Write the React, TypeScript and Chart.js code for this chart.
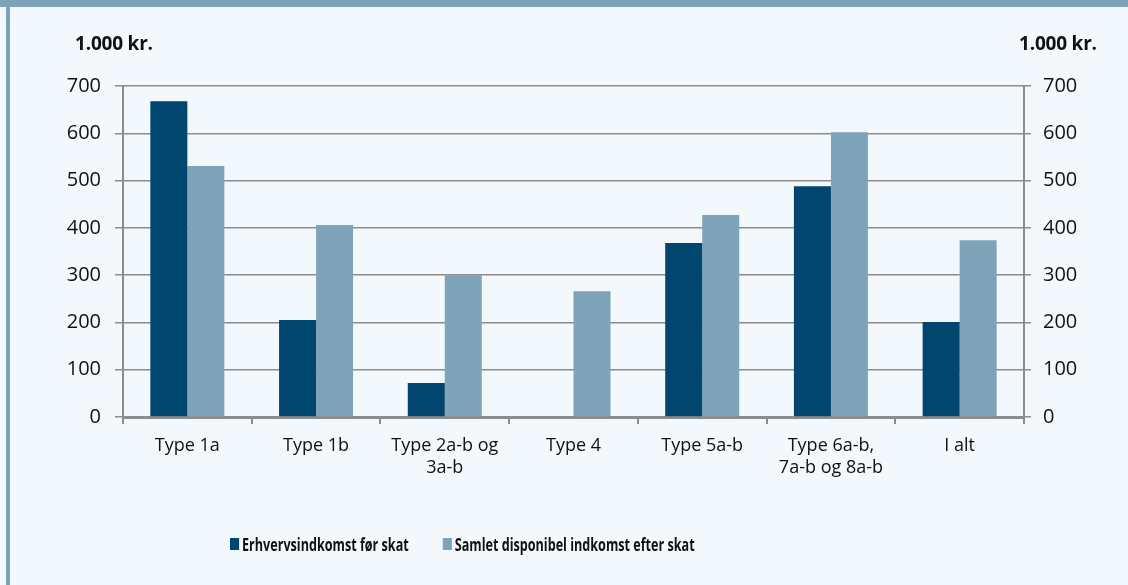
import React, { useEffect, useRef } from "react";
import { Chart, registerables } from "chart.js";

Chart.register(...registerables);

const categories: (string | string[])[] = [
  "Type 1a",
  "Type 1b",
  ["Type 2a-b og", "3a-b"],
  "Type 4",
  "Type 5a-b",
  ["Type 6a-b,", "7a-b og 8a-b"],
  "I alt",
];
const seriesNames = ["Erhvervsindkomst før skat", "Samlet disponibel indkomst efter skat"];
const erhvervsindkomst = [668, 205, 72, 0, 368, 488, 201];
const disponibel = [531, 406, 300, 266, 427, 602, 374];
const seriesColors = ["#00466e", "#7fa3b8"];
const unitLabel = "1.000 kr.";
const yMin = 0;
const yMax = 700;
const yStep = 100;

const FONT = "'Open Sans', 'Noto Sans', sans-serif";
const GRID = "#8c8c8c";
const LEG_SCALE = 0.7;

export default function App() {
  const ref = useRef<HTMLCanvasElement | null>(null);

  useEffect(() => {
    if (!ref.current) return;
    const chart = new Chart(ref.current, {
      type: "bar",
      data: {
        labels: categories,
        datasets: [
          { label: seriesNames[0], data: erhvervsindkomst, backgroundColor: seriesColors[0], yAxisID: "y" },
          { label: seriesNames[1], data: disponibel, backgroundColor: seriesColors[1], yAxisID: "y" },
        ],
      },
      options: {
        animation: false,
        responsive: false,
        maintainAspectRatio: false,
        layout: { padding: { top: 79, left: 0, right: 0, bottom: 68 } },
        datasets: { bar: { categoryPercentage: 0.575, barPercentage: 1 } },
        plugins: { legend: { display: false }, tooltip: { enabled: false }, title: { display: false } },
        scales: {
          x: {
            grid: { display: true, drawOnChartArea: false, offset: true, color: GRID, lineWidth: 2, tickLength: 7 },
            border: { display: true, color: GRID, width: 3 },
            ticks: { color: "#111", font: { family: FONT, size: 18, lineHeight: 1.22 }, padding: 11, maxRotation: 0, autoSkip: false },
            afterFit: (s: any) => { s.height = 100; },
          },
          y: {
            position: "left",
            min: yMin,
            max: yMax,
            grid: { color: GRID, lineWidth: 1.5, tickLength: 8, drawOnChartArea: true },
            border: { display: true, color: GRID, width: 2 },
            ticks: { stepSize: yStep, color: "#111", font: { family: FONT, size: 20 }, padding: 14 },
            afterFit: (s: any) => { s.width = 113; },
          },
          y2: {
            position: "right",
            min: yMin,
            max: yMax,
            grid: { color: GRID, lineWidth: 1.5, tickLength: 7, drawOnChartArea: false },
            border: { display: true, color: GRID, width: 2 },
            ticks: { stepSize: yStep, color: "#111", font: { family: FONT, size: 20 }, padding: 12 },
            afterFit: (s: any) => { s.width = 104; },
          },
        },
      } as any,
    });
    return () => chart.destroy();
  }, []);

  return (
    <div style={{ position: "absolute", left: 0, top: 0, width: 1128, height: 585, background: "#f3f8fd", overflow: "hidden", fontFamily: FONT }}>
      <div style={{ position: "absolute", left: 0, top: 0, width: 1128, height: 7, background: "#7ea2b6" }} />
      <div style={{ position: "absolute", left: 6, top: 7, width: 4, height: 578, background: "#7ea2b6" }} />
      <canvas ref={ref} width={1118} height={578} style={{ position: "absolute", left: 10, top: 7, width: 1118, height: 578 }} />
      <div style={{ position: "absolute", left: 75, top: 30, fontWeight: 700, fontSize: 19, color: "#111", letterSpacing: -0.2, lineHeight: "26px" }}>{unitLabel}</div>
      <div style={{ position: "absolute", left: 1019, top: 30, fontWeight: 700, fontSize: 19, color: "#111", letterSpacing: -0.2, lineHeight: "26px" }}>{unitLabel}</div>
      <div style={{ position: "absolute", left: 230, top: 531, display: "flex", alignItems: "center", fontWeight: 700, fontSize: 18, lineHeight: "26px", color: "#111", transform: `scaleX(${LEG_SCALE})`, transformOrigin: "0 50%", whiteSpace: "nowrap" }}>
        {seriesNames.map((n, i) => (
          <div key={n} style={{ display: "flex", alignItems: "center", marginRight: 34 / LEG_SCALE }}>
            <span style={{ display: "inline-block", width: 9 / LEG_SCALE, height: 12, background: seriesColors[i], marginRight: 3 / LEG_SCALE }} />
            <span>{n}</span>
          </div>
        ))}
      </div>
    </div>
  );
}
